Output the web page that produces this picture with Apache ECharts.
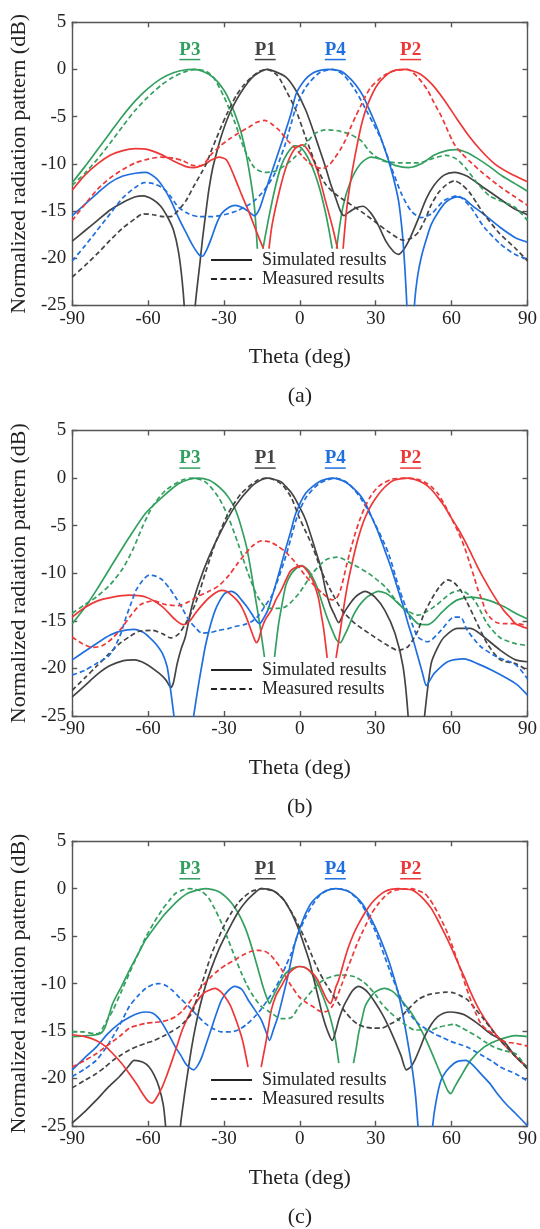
<!DOCTYPE html>
<html><head><meta charset="utf-8">
<script src="https://cdn.jsdelivr.net/npm/echarts@6/dist/echarts.min.js"></script>
<style>html,body{margin:0;padding:0;background:#fff}#c{width:540px;height:1229px}</style>
</head><body><div id="c"></div>
<script>
// ---------- Tick labels / categories ----------
const thetaTicks = [-90, -60, -30, 0, 30, 60, 90];
const dbTicks = [-25, -20, -15, -10, -5, 0, 5];
const portNames = ['P3', 'P1', 'P4', 'P2'];
const portPeakTheta = [-43.5, -13.7, 14, 43.8];
const panelLabels = ['(a)', '(b)', '(c)'];
const legendNames = ['Simulated results', 'Measured results'];

// ---------- Panel (a) ----------
const a_P3_sim = [[-90,-12],[-85,-10.3],[-80,-8.5],[-75,-6.7],[-70,-4.9],[-65,-3.3],[-60,-2],[-55,-1],[-50,-0.35],[-45,-0.03],[-42,0],[-38,-0.25],[-34,-0.9],[-30,-2.2],[-27,-3.8],[-24,-6],[-22,-8],[-20,-10.8],[-18,-14.5],[-16.8,-19],[-15.7,'-'],[-14.6,-19],[-12.5,-16],[-10,-12.8],[-7.5,-10.3],[-5,-8.9],[-2,-8.1],[0,-8.2],[2,-8.8],[4,-9.8],[6,-11.1],[8,-12.8],[10,-15],[11.5,-17],[12.8,-19],[13.6,'-'],[14.5,-19],[17,-14.6],[20,-11.9],[24,-10],[28,-9.3],[33,-9.6],[38,-10.2],[43,-10.4],[48,-10],[53,-9.1],[58,-8.6],[62,-8.5],[66,-8.8],[70,-9.4],[75,-10.3],[80,-11.3],[85,-12.1],[90,-12.9]];
const a_P2_sim = [[-90,-12.8],[-85,-11.2],[-80,-10],[-75,-9.1],[-70,-8.6],[-65,-8.4],[-60,-8.5],[-55,-9],[-50,-9.7],[-45,-10.3],[-42,-10.4],[-38,-10.1],[-35,-9.6],[-32,-9.3],[-29,-9.6],[-26,-11.3],[-23,-13.3],[-20,-15.2],[-17,-17.3],[-14.4,-19],[-13.3,'-'],[-12.2,-19],[-11,-16.5],[-8,-12.8],[-5,-10],[-2,-8.4],[1,-8],[4,-8.9],[7,-10.8],[10,-13.8],[13,-16.8],[14.9,-19],[16,'-'],[17.1,-19],[18.6,-14.6],[20.5,-11.1],[22.5,-8.2],[24.5,-5.7],[27,-3.6],[31,-1.5],[36,-0.25],[41.5,0],[47,-0.4],[52,-1.5],[57,-3.2],[62,-5.2],[67,-7.1],[72,-8.7],[77,-10],[83,-11],[90,-11.9]];
const a_P1_sim = [[-90,-18.2],[-85,-17.1],[-80,-16],[-75,-14.9],[-70,-14.1],[-65,-13.5],[-62,-13.4],[-58,-13.8],[-55,-14.5],[-52,-15.8],[-50,-17],[-48,-19.3],[-46.5,-22.5],[-45.5,-26],[-44,-35],[-42,-27],[-41,-24],[-39.5,-20.5],[-38.5,-18],[-37,-14.8],[-36,-12.8],[-34.5,-10.5],[-33,-8.9],[-31,-7],[-28,-4.8],[-25,-3.2],[-22,-1.9],[-19,-0.9],[-16,-0.3],[-13,0],[-10,-0.2],[-5.5,-0.8],[-1.6,-2.2],[2.3,-4.3],[6.2,-7.2],[10.2,-10.4],[12,-12],[14,-13.5],[16,-15],[17.5,-15.5],[19,-15.2],[22,-14.7],[25,-14.5],[28,-15.2],[31,-16.5],[34,-18.2],[37,-19.3],[39,-19.6],[41,-19.1],[43,-18.2],[45,-17],[47,-15.7],[50,-13.7],[53,-12.3],[57,-11.2],[61,-10.9],[66,-11.3],[72,-12.4],[79,-13.7],[85,-14.8],[90,-15.4]];
const a_P4_sim = [[-90,-15.5],[-85,-14.3],[-80,-13.1],[-75,-12],[-70,-11.3],[-65,-11],[-61,-10.9],[-57,-11.5],[-54,-12.5],[-51,-13.9],[-48,-15.7],[-45,-17.3],[-42.5,-18.6],[-40,-19.6],[-38.5,-19.8],[-37,-19.2],[-35,-17.9],[-33,-16.4],[-31,-15.3],[-28,-14.6],[-25.5,-14.4],[-23,-14.6],[-20.5,-15],[-18,-15.5],[-16,-14.8],[-14,-13.2],[-12,-11.6],[-10,-10],[-8,-8.4],[-6,-6.8],[-3.5,-4.7],[-1.5,-2.6],[2,-1.1],[5,-0.4],[8,-0.1],[11.5,0],[15,-0.1],[17,-0.3],[20,-1],[22,-1.6],[25,-2.8],[27,-4],[29,-5.2],[31,-6.5],[33,-8],[35,-9.6],[37,-11.5],[39,-13.9],[40.5,-17.3],[41.5,-21],[42.3,-25],[43.7,-35],[45.3,-25],[46.5,-22],[48,-19.9],[50,-18],[52,-16.4],[55,-15],[58,-14],[62,-13.5],[65,-13.7],[68,-14.4],[73,-15.4],[79,-16.7],[85,-17.8],[90,-18.3]];
const a_P3_meas = [[-90,-12.3],[-85,-11],[-80,-9.5],[-75,-7.8],[-70,-6],[-65,-4.3],[-60,-2.9],[-55,-1.7],[-50,-0.8],[-45,-0.2],[-41,0],[-37,-0.2],[-34,-0.9],[-30,-2.9],[-26,-5.4],[-22,-8.4],[-18,-10.4],[-14,-10.9],[-10,-10.8],[-6,-10.2],[-2,-9.3],[2,-8],[6,-6.8],[10,-6.4],[15,-6.5],[20,-6.9],[24,-7.5],[28,-8.8],[33,-9.7],[40,-9.9],[47,-9.9],[53,-9.4],[58,-9.1],[62,-9.5],[66,-10.6],[70,-12],[75,-13.4],[80,-14],[85,-14.6],[90,-16]];
const a_P2_meas = [[-90,-16],[-85,-14.3],[-80,-12.7],[-75,-11.5],[-70,-10.6],[-65,-9.9],[-60,-9.5],[-55,-9.3],[-50,-9.4],[-46,-9.7],[-42,-10.2],[-39,-10.2],[-35,-9],[-31,-8],[-28,-7.4],[-24,-6.7],[-20,-6.1],[-17,-5.6],[-14,-5.4],[-11,-5.8],[-8,-6.5],[-5,-7.5],[-2,-8.3],[1,-9.2],[5,-10.2],[9,-10.5],[12,-10],[14,-9.3],[16,-8.5],[18,-7.5],[20,-6.2],[22,-5],[24,-3.9],[26,-2.8],[28,-1.9],[31,-1.1],[34,-0.5],[38,-0.1],[42.5,0],[46.5,-0.8],[50.5,-2.2],[53,-3.5],[56,-5],[58.5,-6.5],[61,-7.9],[64,-8.9],[67,-9.7],[72,-10.9],[79,-12.4],[85,-13.5],[90,-14.4]];
const a_P1_meas = [[-90,-22],[-85,-20.8],[-80,-19.5],[-75,-18.1],[-70,-16.8],[-65,-15.8],[-62,-15.3],[-58,-15.4],[-54,-15.6],[-51,-15.6],[-48,-14.9],[-45,-13.9],[-42,-12.4],[-39,-11],[-37,-10],[-35,-8.6],[-33,-7.3],[-31,-6],[-29,-4.8],[-27,-3.7],[-25,-2.7],[-22,-1.6],[-19,-0.8],[-16,-0.2],[-13,0],[-9,-0.6],[-5.5,-2.2],[-1.6,-4.3],[2.3,-7.2],[6.2,-10],[10,-12.1],[14,-13.2],[20,-14.3],[25,-15.2],[30,-16.2],[35,-17.2],[41,-18.1],[44,-17.9],[47,-17.2],[50,-15.6],[52,-14.3],[55,-13],[58,-12.2],[61,-11.8],[64,-12.2],[67,-13],[70,-14.2],[73,-15.4],[79,-17.4],[85,-18.9],[90,-20.3]];
const a_P4_meas = [[-90,-20.3],[-85,-18.7],[-80,-17],[-75,-15.3],[-70,-13.6],[-65,-12.5],[-61.5,-12],[-58,-12.1],[-54,-12.6],[-51,-13.5],[-48,-14.6],[-44,-15.3],[-40,-15.6],[-35,-15.6],[-30,-15.4],[-25,-15],[-20.5,-14.4],[-18,-13.9],[-15,-13.1],[-12.5,-12.2],[-10,-11.1],[-8,-9.6],[-6,-8.1],[-3.5,-5.8],[-1.5,-4],[2.3,-1.9],[7.5,-0.4],[12.8,0],[17.3,-0.6],[21.9,-2.2],[27,-4.7],[32.3,-7.5],[36.2,-10.4],[40.2,-13.2],[44,-15],[48,-15.7],[52,-15.3],[57,-13.9],[62.3,-13.4],[67.5,-14.6],[72.8,-16.7],[79.3,-18.5],[85,-19.6],[90,-20.1]];

// ---------- Panel (b) ----------
const b_P3_sim = [[-90,-15.3],[-85,-13.6],[-80.5,-11.8],[-74,-9],[-67.4,-6.2],[-61,-3.7],[-54.4,-2],[-48,-0.6],[-44,-0.15],[-40,0],[-36,-0.2],[-33.5,-0.6],[-30.5,-1.3],[-28.3,-2],[-26,-3],[-24.4,-4.1],[-22.7,-5.6],[-21.1,-7.2],[-19.8,-9],[-18.5,-11.1],[-17.2,-13.2],[-15.9,-15.3],[-14,-18.8],[-12,'-'],[-10,-18.8],[-8.5,-15.5],[-7,-13.2],[-5.5,-11.2],[-3.5,-10.1],[-1.5,-9.5],[0.4,-9.2],[3,-9.6],[5,-10.4],[7,-11.6],[8.9,-13.2],[11,-14.8],[12.8,-16],[14.5,-17],[16,-17.3],[17.5,-16.6],[19.3,-15.6],[21,-14.5],[23.2,-13.5],[25,-12.9],[27.1,-12.4],[31,-11.9],[34,-12.1],[36.2,-12.5],[39,-13.2],[42.8,-14.2],[46.7,-15.3],[50.6,-15.4],[53,-15],[55.8,-14.2],[59,-13.4],[62.3,-12.8],[67.5,-12.5],[74,-12.8],[80.6,-13.5],[85.3,-14.2],[90,-14.8]];
const b_P2_sim = [[-90,-14.6],[-85,-13.6],[-80,-12.9],[-74,-12.5],[-67.4,-12.3],[-61,-12.5],[-54.4,-13.5],[-49.2,-14.9],[-46,-15.4],[-43.5,-15],[-41.3,-14.2],[-38.5,-13.3],[-36,-12.6],[-33,-12],[-31,-11.8],[-29,-11.9],[-27,-12.3],[-25,-12.8],[-23.1,-13.5],[-21.5,-14.4],[-19.8,-15.6],[-18.3,-16.7],[-17.2,-17.3],[-16.2,-16.9],[-15.3,-16],[-13.5,-14.8],[-11.3,-13.9],[-9.5,-12.8],[-7.4,-11.8],[-5.5,-10.7],[-3.5,-9.7],[-1,-9.3],[1,-9.25],[3,-9.8],[5,-10.7],[6.5,-11.8],[7.5,-12.8],[8.5,-14.4],[9.5,-16],[10.8,-18.9],[12.5,'-'],[14.3,-18.9],[15.2,-17.4],[16,-16],[17,-14.2],[18,-12.5],[19.3,-10.6],[20.6,-9],[22,-7.4],[23.2,-6.2],[25,-4.7],[27.1,-3.4],[29.5,-2.3],[32.3,-1.3],[35,-0.6],[37.5,-0.2],[42.8,0],[46,-0.2],[49.3,-0.6],[52,-1.2],[54.5,-2],[57,-2.9],[59.7,-4.1],[62.5,-5.3],[65,-6.5],[67.5,-7.8],[70.2,-9.3],[72.8,-10.6],[75.4,-11.8],[78,-12.9],[80.6,-13.9],[83,-14.6],[85.3,-15.3],[90,-15.8]];
const b_P1_sim = [[-90,-23],[-85,-21.8],[-80,-20.6],[-75,-19.7],[-70,-19.2],[-65.5,-19.1],[-61,-19.5],[-55.7,-20.5],[-53,-21.2],[-51,-22],[-50,-21.5],[-48.5,-19.5],[-47,-18],[-45.3,-16.7],[-42.7,-13.5],[-40,-11.1],[-36,-8.3],[-31,-5.5],[-25.7,-3],[-19.2,-0.9],[-15,-0.15],[-12.7,0],[-10,-0.15],[-7.4,-0.4],[-5.5,-0.9],[-3.5,-1.5],[-1.6,-2.3],[2.3,-4.4],[6.2,-7.6],[8.5,-9.6],[10.2,-11.8],[12,-13.4],[13.4,-14.2],[15.4,-15.2],[16.5,-14.7],[18,-13.9],[21.9,-12.5],[25.8,-11.9],[29.7,-12.5],[33.6,-13.9],[37.6,-16.3],[40.8,-19.8],[42.8,-25],[45,-35],[47.5,-30],[49.3,-25],[51.9,-19.5],[54.5,-17.8],[57.1,-16.7],[62.3,-15.8],[67.5,-15.8],[72.8,-16.7],[79.3,-18.1],[85.3,-19.1],[90,-19.3]];
const b_P4_sim = [[-90,-19.1],[-85,-18.2],[-80.5,-17.4],[-75,-16.5],[-71.3,-16.1],[-65.5,-15.9],[-62,-16.2],[-59.6,-16.7],[-57,-17.4],[-54.4,-18.4],[-52.5,-19.8],[-51.5,-21.5],[-50.5,-23.5],[-49.8,-25],[-47,-35],[-43,-27],[-42,-25],[-40,-21.6],[-38.5,-19.3],[-37.4,-17.7],[-35.5,-15.6],[-33.5,-13.9],[-31.5,-12.8],[-29.6,-12.1],[-27,-11.9],[-25,-12.2],[-23.1,-12.8],[-21,-13.5],[-19.2,-14.2],[-17.5,-14.9],[-15.9,-15.3],[-14.5,-14.8],[-12.7,-13.9],[-10.7,-12.2],[-8.7,-10.4],[-6,-7.8],[-3.5,-5.5],[-1.6,-3.7],[2.3,-1.6],[7.5,-0.4],[12.8,0],[18,-0.4],[23.2,-1.6],[26,-2.7],[28.4,-4.1],[31,-5.7],[33.6,-7.6],[36.3,-9.6],[38.9,-11.8],[41,-13.6],[42.8,-15.3],[44.8,-17],[46.7,-18.8],[48.5,-20.5],[50,-21.8],[51.5,-21.2],[53.2,-20.5],[58.4,-19.3],[65,-19],[70.2,-19.5],[76.7,-20.3],[85.3,-21.6],[90,-22.8]];
const b_P3_meas = [[-90,-14.2],[-85,-13.3],[-80,-12.4],[-75,-11.2],[-70,-9.5],[-66,-7.5],[-62.2,-5.1],[-58.3,-3],[-53.1,-1.3],[-46.5,-0.2],[-42.7,0],[-37.4,-0.4],[-32.2,-2],[-28.3,-4.1],[-24.4,-6.9],[-20.5,-10],[-16.6,-12.5],[-12.7,-13.7],[-9,-13.7],[-5.5,-13.5],[-0.3,-12.1],[5,-10],[10.2,-8.6],[14.7,-8.3],[20.6,-9],[27.1,-10],[33.6,-11.4],[40.2,-13.5],[46.7,-14.4],[53.2,-13.5],[59.7,-12.1],[63.6,-11.8],[68.9,-12.8],[74.1,-15.3],[79.3,-16.8],[85.3,-17.4],[90,-17.6]];
const b_P2_meas = [[-90,-16.7],[-86,-17.4],[-82,-17.8],[-78,-17.6],[-74,-16.8],[-70,-15.6],[-67,-14.5],[-63,-13.3],[-58,-12.9],[-53,-13.3],[-48,-13.4],[-44,-13],[-40,-12.4],[-36,-11.9],[-32,-11.3],[-28,-10.2],[-25,-9.1],[-22,-8.1],[-19,-7.2],[-15.3,-6.6],[-12,-6.7],[-9,-7.1],[-5.5,-7.8],[-2,-8.8],[2,-10.2],[5,-11.1],[8.9,-12.1],[12.8,-12.8],[14.5,-12.6],[16,-11.8],[17.3,-10.5],[18.6,-9],[20.2,-7.4],[21.9,-5.8],[23.8,-4.3],[25.8,-3],[28,-1.9],[31,-0.9],[36,-0.15],[42.8,0],[46,-0.1],[49.3,-0.4],[52,-0.9],[54.5,-1.6],[57,-2.7],[59.7,-4.1],[62.5,-5.6],[65,-7.2],[67,-8.8],[68.9,-10.4],[70.5,-11.8],[72,-12.8],[73.5,-14],[75.4,-14.7],[78,-15.2],[80.6,-15.3],[85.3,-15.3],[90,-15.5]];
const b_P1_meas = [[-90,-22.3],[-85,-21],[-80.5,-19.8],[-76,-18.6],[-71.3,-17.4],[-67,-16.6],[-63.5,-16.1],[-58.3,-16],[-54,-16.4],[-51,-16.8],[-48,-16.4],[-45,-15.2],[-41.3,-13.2],[-37.4,-10],[-33.5,-6.9],[-28.3,-3.7],[-23.1,-1.6],[-16.6,-0.2],[-12.7,0],[-7.4,-0.6],[-3.5,-2],[-0.3,-4.1],[5,-7.2],[8.9,-10],[12.8,-12.1],[16.7,-13.9],[21.9,-15.3],[28.4,-16.5],[33.6,-17.4],[38.9,-18.1],[42.8,-17.7],[46.7,-16],[49,-14.3],[51.9,-12.8],[55,-11.5],[58.4,-10.7],[61,-11],[63.6,-11.8],[66,-13],[68.9,-14.6],[74.1,-17.4],[79.3,-19.1],[85.3,-19.5],[90,-20.2]];
const b_P4_meas = [[-90,-20.7],[-85,-20.2],[-80.5,-19.5],[-76,-18.8],[-73.9,-18.1],[-71,-16.5],[-68.7,-14.6],[-66.5,-13],[-64.8,-11.8],[-62,-10.7],[-59.6,-10.2],[-57,-10.3],[-54.4,-10.7],[-51.5,-11.6],[-49.2,-12.5],[-46.5,-13.7],[-43.9,-14.9],[-41,-15.8],[-38.7,-16.3],[-35,-16.2],[-32.2,-16],[-28,-15.8],[-25.7,-15.6],[-22,-15.4],[-19.2,-15.1],[-16.5,-14.5],[-13.9,-13.5],[-11,-12.3],[-8.7,-10.7],[-6,-8.6],[-3.5,-6.3],[-1,-4],[2.3,-2.1],[7.5,-0.6],[14.1,0],[19.3,-0.6],[24.5,-2.3],[29.7,-4.8],[35,-7.9],[39.5,-11.8],[43.4,-14.6],[46.7,-16.7],[50.6,-17.2],[55.8,-16],[61,-14.6],[63.5,-14.6],[66.2,-16],[71.5,-17.7],[78,-18.8],[85.3,-19.6],[90,-21.1]];

// ---------- Panel (c) ----------
const c_P3_sim = [[-90,-15.6],[-84,-15.5],[-79,-15.3],[-77,-14.6],[-74,-12.1],[-70.5,-10.3],[-67.4,-8.6],[-64,-6.9],[-61,-5.4],[-57.5,-4.1],[-54.4,-3],[-51,-2],[-48,-1.2],[-44.5,-0.5],[-41.3,-0.2],[-37.4,0],[-34.5,-0.1],[-32.2,-0.3],[-29.5,-0.8],[-27,-1.5],[-24.5,-2.5],[-21.8,-4],[-19.8,-5.5],[-17.9,-7.2],[-16.2,-8.8],[-14.6,-10.3],[-13.2,-11.4],[-12,-12.1],[-11,-11.6],[-9,-10.5],[-7,-9.5],[-5.5,-8.9],[-3,-8.4],[-0.3,-8.2],[2,-8.3],[3.6,-8.6],[5.5,-9.3],[7.5,-10.3],[9.5,-11.6],[11.5,-13.1],[13,-14.6],[14.1,-16],[15.4,-18.4],[18.3,'-'],[21.2,-18.4],[22.3,-16.8],[23.2,-15.3],[24.5,-13.8],[25.8,-12.4],[27.5,-11.6],[29.7,-10.9],[33.6,-10.5],[36.5,-10.8],[38.9,-11.4],[41.5,-12.2],[44.1,-13.1],[46.5,-14.2],[49.3,-15.6],[52,-17.2],[54.5,-18.8],[57,-20.4],[58.5,-21.3],[59.7,-21.6],[61,-21],[63.6,-19.8],[67.5,-18.1],[72.8,-16.7],[78,-16],[85.3,-15.5],[90,-15.6]];
const c_P2_sim = [[-90,-15.4],[-85,-15.6],[-80.5,-16],[-77,-16.6],[-73.9,-17.4],[-70.5,-18.4],[-67.4,-19.5],[-64.5,-20.6],[-62.2,-21.6],[-60,-22.4],[-58.5,-22.6],[-57,-22.2],[-54.4,-20.9],[-52.5,-19.6],[-50.5,-18.1],[-48.5,-16.5],[-46.5,-14.9],[-44,-13.4],[-41.3,-12.1],[-39,-11.3],[-37.4,-10.9],[-33.5,-10.5],[-31.5,-10.8],[-29.6,-11.4],[-27.5,-12.3],[-25.7,-13.5],[-24,-14.8],[-22.4,-16.3],[-20.5,-18.8],[-18,'-'],[-15.3,-18.8],[-14.3,-17.4],[-13.3,-16],[-12.3,-14.4],[-11.3,-12.8],[-9.5,-11.3],[-7.4,-10.3],[-5.5,-9.4],[-3.5,-8.7],[-0.3,-8.2],[2,-8.3],[5,-8.9],[7,-9.6],[8.9,-10.7],[10.5,-11.6],[12.1,-12.1],[13.2,-11.4],[14.2,-10.4],[15.4,-9.6],[17.3,-7.8],[19.3,-6.1],[21.2,-4.8],[23.2,-3.7],[25.8,-2.5],[28.4,-1.5],[31,-0.8],[33.6,-0.3],[36.5,-0.05],[38.9,0],[41.5,-0.05],[44.1,-0.1],[46.5,-0.5],[49.3,-1.2],[52,-2.1],[54.5,-3.3],[57,-4.6],[59.7,-6.1],[62.3,-7.7],[65,-9.3],[67.5,-10.9],[70.2,-12.4],[72.8,-13.6],[75.4,-14.6],[79.3,-16],[82,-16.8],[85.3,-17.7],[90,-18.9]];
const c_P1_sim = [[-90,-24.7],[-85,-23.5],[-80.5,-22.3],[-76,-21],[-71.3,-19.8],[-68,-18.8],[-65.5,-18.1],[-62,-18.3],[-59.6,-18.8],[-57.5,-19.7],[-55.7,-20.9],[-54,-22.8],[-53.1,-25],[-50,-35],[-47.2,-25],[-45.5,-21.5],[-44,-18.8],[-42.7,-16.6],[-41.3,-14.6],[-39.5,-12.4],[-37.4,-10.3],[-35,-8.4],[-32.2,-6.5],[-29.5,-5],[-27,-3.7],[-24.5,-2.5],[-21.8,-1.5],[-18.5,-0.6],[-15.3,0],[-12.5,-0.05],[-10,-0.3],[-7,-1],[-5.5,-1.5],[-3,-2.7],[-0.3,-4.4],[1.5,-5.8],[3.6,-7.5],[5.5,-9.5],[7.5,-11.7],[9,-13.4],[10.8,-14.9],[12.8,-16],[14.2,-15],[15.4,-13.8],[17.3,-12.4],[19.3,-11.4],[21,-10.7],[23.2,-10.3],[25,-10.5],[27.1,-11],[29.5,-11.9],[32.3,-13.1],[35,-14.5],[37.5,-16],[40,-17.6],[42.1,-19.1],[43.8,-18.8],[45.4,-18.1],[47.5,-16.8],[49.3,-15.6],[52,-14.3],[54.5,-13.5],[57,-13.1],[59.7,-13],[62.5,-13.1],[65,-13.3],[70.2,-14.2],[75.4,-15.3],[80.6,-16.1],[85.3,-17.7],[90,-18.8]];
const c_P4_sim = [[-90,-19.1],[-85,-17.8],[-80.5,-16.7],[-76,-15.3],[-71.3,-14.2],[-67,-13.5],[-63.5,-13.1],[-61,-13],[-58.3,-13.1],[-56,-13.6],[-54.4,-14.2],[-52,-15.3],[-49.2,-16.7],[-47,-17.6],[-45.3,-18.4],[-43.5,-18.9],[-42,-19.1],[-40.3,-18.6],[-38.7,-17.7],[-36.8,-16.2],[-34.8,-14.6],[-32.8,-13],[-30.9,-11.7],[-28.5,-10.8],[-25.7,-10.3],[-23,-10.6],[-20.5,-11.7],[-18,-12.7],[-15.3,-13.8],[-13.5,-15],[-12,-16],[-10.5,-14.9],[-8.7,-13.5],[-6.8,-11.5],[-4.8,-9.3],[-3,-7],[-1.6,-5.4],[0.5,-3.8],[2.3,-2.6],[4.5,-1.5],[7.5,-0.7],[10.5,-0.2],[14.1,0],[17,-0.1],[19.3,-0.3],[22,-0.8],[24.5,-1.5],[27,-2.6],[29.7,-4],[32.3,-5.6],[35,-7.5],[37,-9.2],[38.9,-11],[40.5,-13],[42.1,-15.3],[43.5,-17.5],[44.7,-19.5],[45.8,-22],[46.7,-25],[49.5,-35],[52.5,-25],[53.8,-22.5],[55.8,-20.2],[58,-19.2],[61,-18.4],[63,-18.15],[65.6,-18.1],[68,-18.5],[71.5,-19.5],[75,-20.5],[78,-21.6],[81.5,-22.7],[85.3,-23.7],[90,-25]];
const c_P3_meas = [[-90,-15.1],[-85.7,-15.1],[-81,-15.3],[-79.2,-15.2],[-76.5,-14],[-73.9,-12.8],[-70.5,-10.8],[-67.4,-8.9],[-64,-6.9],[-60.9,-5.1],[-57.5,-3.5],[-54.4,-2.2],[-51.5,-1.2],[-49.2,-0.5],[-46.5,-0.15],[-44,0],[-41.5,-0.05],[-38.7,-0.3],[-36,-1],[-33.5,-2.2],[-31,-3.6],[-28.3,-5.4],[-25.7,-7.2],[-23.1,-8.9],[-21,-10.1],[-19.2,-11],[-15.3,-12.4],[-11.3,-13.1],[-7.4,-13.7],[-3.5,-13.6],[-0.3,-12.4],[2.5,-11.5],[5,-10.7],[7.5,-10],[10.2,-9.5],[13.5,-9.2],[16.7,-9.1],[21.9,-9.3],[25,-9.8],[27.1,-10.3],[30,-11.2],[32.3,-12.1],[35.5,-13],[38.9,-13.8],[42,-14.4],[45.4,-14.9],[51.9,-14.9],[55,-14.6],[58.4,-14.4],[61,-14.3],[63.6,-14.6],[67,-15.1],[70.2,-15.6],[73.5,-16.2],[76.7,-16.7],[81,-17.1],[85.3,-17.4],[90,-19]];
const c_P2_meas = [[-90,-18.8],[-85,-18.1],[-80.5,-17.4],[-77,-16.7],[-73.9,-16.1],[-70.5,-15.4],[-67.4,-14.7],[-64,-14.4],[-60.9,-14.2],[-57.5,-14.1],[-54.4,-14],[-51.5,-13.8],[-49.2,-13.5],[-46.5,-12.9],[-44,-12.1],[-41.5,-11.2],[-38.7,-10.3],[-35.5,-9.4],[-32.2,-8.6],[-29,-8],[-25.7,-7.5],[-22.5,-7],[-19.2,-6.6],[-16.5,-6.5],[-13.9,-6.6],[-12,-6.9],[-10,-7.5],[-7.5,-8.4],[-5.5,-9.3],[-3.5,-10.2],[-0.3,-11.4],[2.5,-12],[5,-12.4],[7,-12.8],[8.9,-13],[11,-12.9],[12.8,-12.4],[14.7,-11.4],[16.7,-10],[18.6,-8.6],[20.6,-7.2],[22.5,-5.9],[24.5,-4.7],[26.5,-3.6],[28.4,-2.6],[31,-1.6],[33.6,-0.8],[36.2,-0.3],[38.9,-0.1],[44.1,0],[46.7,-0.2],[49.3,-0.5],[51.3,-1.1],[53.2,-1.9],[55.8,-3.2],[58.4,-4.7],[61,-6.6],[63.6,-8.6],[65.5,-10.2],[67.5,-11.7],[69.5,-13.1],[71.5,-14.2],[74,-14.9],[76.7,-15.3],[80.6,-16.1],[85.3,-16.3],[90,-16.6]];
const c_P1_meas = [[-90,-21],[-85,-20.2],[-80.5,-19.5],[-77,-18.8],[-73.9,-18.1],[-70.5,-17.5],[-67.4,-17],[-64,-16.6],[-60.9,-16.3],[-57.5,-16],[-54.4,-15.6],[-51,-15.1],[-47.9,-14.6],[-45.5,-14],[-42.7,-13.1],[-40.7,-11.6],[-38.7,-10],[-36.8,-8.4],[-34.8,-6.8],[-32.2,-5.2],[-29.6,-3.7],[-27,-2.5],[-24.4,-1.5],[-21.8,-0.8],[-19.2,-0.3],[-15.3,0],[-12.5,-0.1],[-10,-0.3],[-7.5,-0.8],[-5.5,-1.5],[-3,-2.6],[-0.3,-4],[2.5,-5.6],[5,-7.2],[7.5,-8.7],[10.2,-10],[12.8,-11.1],[15.4,-12.1],[18,-13],[20.6,-13.8],[23,-14.3],[25.8,-14.6],[29,-14.7],[32.3,-14.7],[35.5,-14.3],[38.9,-13.8],[42.5,-12.8],[46.7,-11.7],[50.5,-11.2],[54.5,-11],[58,-10.9],[61,-11],[63.6,-11.3],[66.2,-11.7],[69.5,-12.7],[72.8,-13.8],[76,-14.9],[79.3,-16],[82.5,-16.9],[85.3,-17.7],[90,-19]];
const c_P4_meas = [[-90,-19.8],[-85,-19],[-80.5,-18.1],[-77,-16.9],[-73.9,-15.6],[-70.5,-14],[-67.4,-12.4],[-64,-11.3],[-60.9,-10.5],[-58,-10.1],[-55.7,-10],[-53,-10.2],[-50.5,-10.7],[-47.5,-11.5],[-44,-12.4],[-40.5,-13.4],[-37.4,-14.2],[-34,-14.8],[-30.9,-15.1],[-27.5,-15.1],[-24.4,-14.9],[-21,-14.3],[-17.9,-13.5],[-15.3,-12.7],[-12.7,-11.7],[-10,-10.6],[-7.4,-9.3],[-5.5,-8.1],[-3.5,-6.9],[-1,-5],[2.3,-3],[5,-1.7],[7.5,-0.8],[10.5,-0.2],[14.1,0],[17,-0.05],[19.3,-0.3],[22,-0.9],[24.5,-1.7],[27,-2.9],[29.7,-4.4],[31.7,-5.8],[33.6,-7.2],[35.5,-8.6],[37.5,-10],[39.5,-11.3],[41.5,-12.4],[44,-13.4],[46.7,-14.2],[50,-14.8],[53.2,-15.3],[56.5,-15.7],[59.7,-16.1],[63,-16.4],[66.2,-16.7],[69.5,-17.2],[72.8,-17.7],[76,-18.2],[79.3,-18.8],[82.5,-19.2],[85.3,-19.5],[90,-20.3]];

// ---------- Assembly ----------
const panelData = [
  {P3:[a_P3_sim,a_P3_meas], P1:[a_P1_sim,a_P1_meas], P4:[a_P4_sim,a_P4_meas], P2:[a_P2_sim,a_P2_meas]},
  {P3:[b_P3_sim,b_P3_meas], P1:[b_P1_sim,b_P1_meas], P4:[b_P4_sim,b_P4_meas], P2:[b_P2_sim,b_P2_meas]},
  {P3:[c_P3_sim,c_P3_meas], P1:[c_P1_sim,c_P1_meas], P4:[c_P4_sim,c_P4_meas], P2:[c_P2_sim,c_P2_meas]}
];
const COLORS = {P1:'#444444', P2:'#ee3737', P3:'#33a060', P4:'#1f6fde'};
const FONT = 'Liberation Serif';
const AX = '#555555';
const grids = [{top:22.3,h:283},{top:430.5,h:285.5},{top:841.3,h:284.5}];
const legendTops = [250.5, 660.5, 1070.5];
const DASH = [5,3];

const option = {animation:false, backgroundColor:'#fff', grid:[], xAxis:[], yAxis:[], series:[], legend:[], graphic:[]};
grids.forEach((g,i)=>{
  option.grid.push({left:69, width:460, top:g.top, height:g.h, show:false});
  const axLine = {show:true, onZero:false, lineStyle:{color:AX, width:1.4}};
  const tick = {show:true, inside:true, length:5, lineStyle:{color:AX, width:1.4}};
  option.xAxis.push({type:'value', gridIndex:i, min:thetaTicks[0], max:thetaTicks[thetaTicks.length-1], interval:30, position:'bottom',
    axisLine:axLine, axisTick:tick, splitLine:{show:false},
    axisLabel:{fontFamily:FONT, fontSize:19, color:'#222', margin:4},
    name:'Theta (deg)', nameLocation:'middle', nameGap:41,
    nameTextStyle:{fontFamily:FONT, fontSize:22, color:'#222'}});
  option.xAxis.push({type:'value', gridIndex:i, min:-90, max:90, interval:30, position:'top',
    axisLine:axLine, axisTick:tick, splitLine:{show:false}, axisLabel:{show:false}});
  option.yAxis.push({type:'value', gridIndex:i, min:dbTicks[0], max:dbTicks[dbTicks.length-1], interval:5, position:'left',
    axisLine:axLine, axisTick:tick, splitLine:{show:false},
    axisLabel:{fontFamily:FONT, fontSize:19, color:'#222', margin:6},
    name:'Normalized radiation pattern (dB)', nameLocation:'middle', nameGap:41,
    nameTextStyle:{fontFamily:FONT, fontSize:22, color:'#222'}});
  option.yAxis.push({type:'value', gridIndex:i, min:-25, max:5, interval:5, position:'right',
    axisLine:axLine, axisTick:tick, splitLine:{show:false}, axisLabel:{show:false}});
  ['P3','P1','P4','P2'].forEach(p=>{
    [0,1].forEach(k=>{
      option.series.push({type:'line', name:p+(k?' meas ':' sim ')+i, xAxisIndex:2*i, yAxisIndex:2*i,
        data:panelData[i][p][k], showSymbol:false, symbol:'none', smooth:0.25, connectNulls:false, clip:true, silent:true,
        lineStyle:{color:COLORS[p], width:1.7, type:k?DASH:'solid'}, itemStyle:{color:COLORS[p]}, z:k?3:2});
    });
  });
  option.legend.push({left:210, top:legendTops[i], orient:'vertical', padding:0, itemGap:0, itemWidth:41, itemHeight:14,
    selectedMode:false, data:legendNames,
    itemStyle:{opacity:0, color:'rgba(0,0,0,0)', borderWidth:0},
    textStyle:{fontFamily:FONT, fontSize:18, color:'#222', lineHeight:19, padding:[0,0,0,5]}});
});
option.series.push({type:'line', name:legendNames[0], xAxisIndex:0, yAxisIndex:0, data:[], symbol:'none',
  lineStyle:{color:'#222', width:2.5, type:'solid'}, itemStyle:{color:'#222'}});
option.series.push({type:'line', name:legendNames[1], xAxisIndex:0, yAxisIndex:0, data:[], symbol:'none',
  lineStyle:{color:'#222', width:2.5, type:[6,3.5]}, itemStyle:{color:'#222'}});

const chart = echarts.init(document.getElementById('c'), null, {renderer:'canvas'});
chart.setOption(option);

// Port labels and panel captions, positioned through the axes
const graphics = [];
grids.forEach((g,i)=>{
  portNames.forEach((p,j)=>{
    const c = chart.convertToPixel({xAxisIndex:2*i, yAxisIndex:2*i}, [portPeakTheta[j], 2.05]);
    const u = chart.convertToPixel({xAxisIndex:2*i, yAxisIndex:2*i}, [portPeakTheta[j], 1.05]);
    graphics.push({type:'text', x:c[0], y:c[1], style:{text:p, fill:COLORS[p], font:'bold 19px "Liberation Serif"', align:'center', verticalAlign:'middle'}});
    graphics.push({type:'line', shape:{x1:c[0]-10.5, y1:u[1], x2:c[0]+10.5, y2:u[1]}, style:{stroke:COLORS[p], lineWidth:1.5}});
  });
  const b = chart.convertToPixel({xAxisIndex:2*i, yAxisIndex:2*i}, [0, -25]);
  graphics.push({type:'text', x:b[0], y:b[1]+91, style:{text:panelLabels[i], fill:'#222', font:'22px "Liberation Serif"', align:'center', verticalAlign:'middle'}});
});
chart.setOption({graphic:graphics});
</script></body></html>
